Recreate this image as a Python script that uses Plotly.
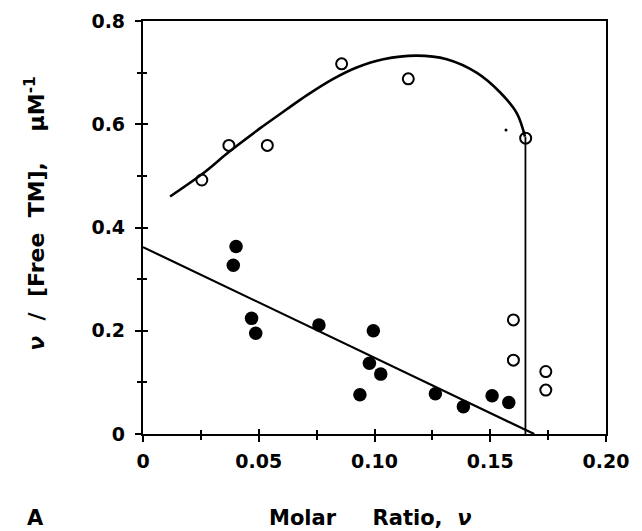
import plotly.graph_objects as go

# Open circles (data)
open_x = [0.0254, 0.0371, 0.0537, 0.0858, 0.1146, 0.1653, 0.160, 0.160, 0.174, 0.174]
open_y = [0.492, 0.559, 0.559, 0.717, 0.688, 0.573, 0.221, 0.143, 0.121, 0.085]

# Filled circles (data)
filled_x = [0.0402, 0.039, 0.0469, 0.0487, 0.076, 0.0995, 0.0978, 0.1027, 0.0937, 0.1263, 0.1384, 0.1508, 0.158]
filled_y = [0.363, 0.327, 0.224, 0.195, 0.211, 0.200, 0.137, 0.116, 0.076, 0.078, 0.053, 0.074, 0.061]

# Fitted curve through open circles
curve_x = [0.0117, 0.0254, 0.0376, 0.0505, 0.0621, 0.0707, 0.0822, 0.0923, 0.1038,
           0.1182, 0.1312, 0.1441, 0.1542, 0.1614, 0.1650]
curve_y = [0.460, 0.503, 0.548, 0.592, 0.629, 0.656, 0.688, 0.710, 0.726,
           0.733, 0.726, 0.700, 0.662, 0.622, 0.576]
drop_x = [0.1652, 0.1652]
drop_y = [0.576, 0.0]

# Straight line through filled circles
line_x = [0.0, 0.169]
line_y = [0.362, 0.0]

# small speck in the original
speck_x = [0.1568]
speck_y = [0.589]

x_ticks = [0, 0.05, 0.10, 0.15, 0.20]
x_labels = ["0", "0.05", "0.10", "0.15", "0.20"]
y_ticks = [0, 0.2, 0.4, 0.6, 0.8]
y_labels = ["0", "0.2", "0.4", "0.6", "0.8"]

FONT = "DejaVu Sans"
NB = "\u00a0"

fig = go.Figure()
fig.add_trace(go.Scatter(x=curve_x, y=curve_y, mode="lines",
                         line=dict(color="black", width=2.6, shape="spline", smoothing=1.0)))
fig.add_trace(go.Scatter(x=drop_x, y=drop_y, mode="lines",
                         line=dict(color="black", width=1.8)))
fig.add_trace(go.Scatter(x=line_x, y=line_y, mode="lines",
                         line=dict(color="black", width=2.2)))
fig.add_trace(go.Scatter(x=open_x, y=open_y, mode="markers",
                         marker=dict(symbol="circle-open", size=11, color="black",
                                     line=dict(width=2, color="black"))))
fig.add_trace(go.Scatter(x=filled_x, y=filled_y, mode="markers",
                         marker=dict(symbol="circle", size=13.5, color="black")))
fig.add_trace(go.Scatter(x=speck_x, y=speck_y, mode="markers",
                         marker=dict(symbol="circle", size=3, color="black")))
# invisible trace on overlay axes (for the inner half of the tick marks)
fig.add_trace(go.Scatter(x=[0.1], y=[0.4], mode="markers", marker=dict(opacity=0),
                         xaxis="x2", yaxis="y2", hoverinfo="skip"))

tickfont = dict(family=FONT, size=19, color="black", weight="bold")
titlefont = dict(family=FONT, size=21, color="black", weight="bold")
ytitlefont = dict(family=FONT, size=22, color="black", weight="bold")

fig.update_layout(
    width=634, height=523,
    margin=dict(l=135, r=36, t=13, b=97, autoexpand=False),
    paper_bgcolor="white", plot_bgcolor="white",
    showlegend=False,
    xaxis=dict(range=[0, 0.2], tickvals=x_ticks, ticktext=x_labels, automargin=False,
               showgrid=False, zeroline=False, showline=True, mirror=True,
               linecolor="black", linewidth=2.2, ticks="outside", ticklen=6,
               tickwidth=2, tickcolor="black", ticklabelstandoff=3,
               minor=dict(dtick=0.025, ticks="outside", ticklen=4, tickwidth=2, tickcolor="black"),
               tickfont=tickfont),
    yaxis=dict(range=[0, 0.8], tickvals=y_ticks, ticktext=y_labels, automargin=False,
               showgrid=False, zeroline=False, showline=True, mirror=True,
               linecolor="black", linewidth=2.2, ticks="outside", ticklen=6,
               tickwidth=2, tickcolor="black", ticklabelstandoff=6,
               minor=dict(dtick=0.1, ticks="outside", ticklen=4, tickwidth=2, tickcolor="black"),
               tickfont=tickfont),
    xaxis2=dict(range=[0, 0.2], overlaying="x", anchor="y", side="bottom", automargin=False,
                showgrid=False, zeroline=False, showticklabels=False,
                tickvals=x_ticks, ticks="inside", ticklen=5, tickwidth=2, tickcolor="black",
                minor=dict(dtick=0.025, ticks="inside", ticklen=4, tickwidth=2, tickcolor="black")),
    yaxis2=dict(range=[0, 0.8], overlaying="y", anchor="x", side="left", automargin=False,
                showgrid=False, zeroline=False, showticklabels=False,
                tickvals=y_ticks, ticks="inside", ticklen=5, tickwidth=2, tickcolor="black",
                minor=dict(dtick=0.1, ticks="inside", ticklen=4, tickwidth=2, tickcolor="black")),
    annotations=[
        dict(text=f"<i>ν</i>{NB}{NB}/{NB}{NB}[Free{NB}{NB}TM],{NB}{NB}{NB}{NB}μM<sup>-1</sup>",
             xref="paper", yref="paper",
             x=-0.234, y=0.535, textangle=-90, showarrow=False,
             xanchor="center", yanchor="middle", font=ytitlefont),
        dict(text=f"Molar{NB}{NB}{NB}{NB}{NB}Ratio,{NB}{NB}<i>ν</i>", xref="paper", yref="paper",
             x=0.492, y=-0.203, showarrow=False, xanchor="center", yanchor="middle",
             font=titlefont),
        dict(text="A", xref="paper", yref="paper",
             x=-0.233, y=-0.203, showarrow=False, xanchor="center", yanchor="middle",
             font=titlefont),
    ],
)

fig.write_html("out.html")
